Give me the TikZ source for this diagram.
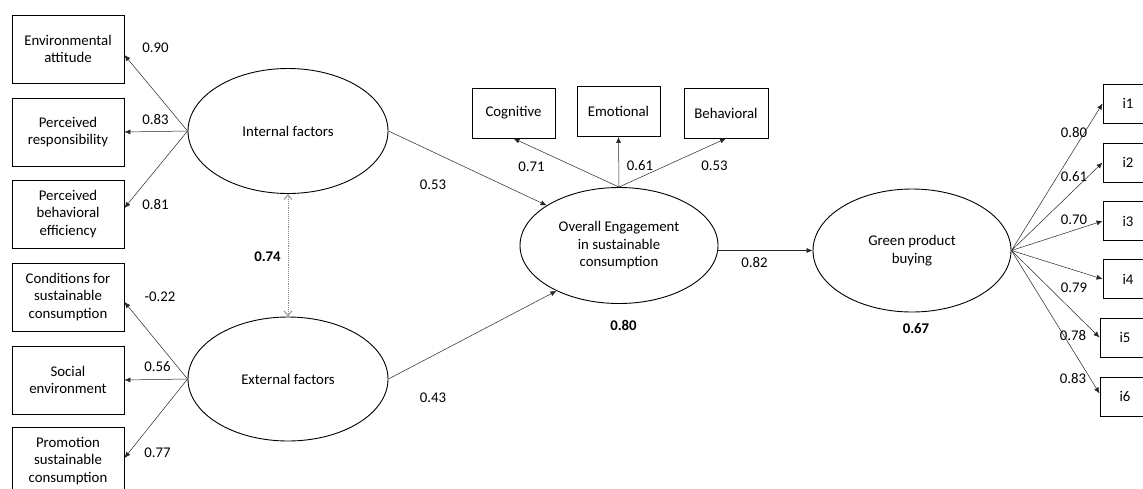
\documentclass[tikz,border=0pt]{standalone}
\usepackage{fontspec}
\setmainfont{Carlito}
\usetikzlibrary{shapes.geometric,arrows.meta}
\begin{document}
\begin{tikzpicture}[x=1pt,y=-1pt,
  every node/.style={font=\fontsize{14.8}{17.5}\selectfont},
  box/.style={draw,line width=0.9pt,inner sep=0pt,align=center},
  lbox/.style={box,minimum width=112pt,minimum height=68pt},
  tbox/.style={box,minimum width=83pt,minimum height=50pt},
  ibox/.style={box,minimum width=50pt,minimum height=39pt},
  latent/.style={draw,ellipse,line width=0.9pt,inner sep=0pt,align=center},
  arr/.style={line width=0.5pt,draw=black!85,-{Latex[length=6pt,width=5pt]}},
  corr/.style={line width=0.9pt,draw=black!45,densely dotted,{Straight Barb[length=5pt,width=8pt]}-{Straight Barb[length=5pt,width=8pt]}},
  lab/.style={inner sep=0pt},
  blab/.style={inner sep=0pt,font=\fontsize{14.8}{17.5}\selectfont\bfseries}]
\useasboundingbox (0,0) rectangle (1143,488);
\clip (0,0) rectangle (1143,488);
\fill[white] (0,0) rectangle (1143,488);

% left indicator boxes
\node[lbox] (env) at (68,49) {Environmental\\attitude};
\node[lbox] (resp) at (68,132) {Perceived\\responsibility};
\node[lbox] (eff) at (68,214) {Perceived\\behavioral\\efficiency};
\node[lbox] (cond) at (68,297) {Conditions for\\sustainable\\consumption};
\node[lbox] (soc) at (68,380) {Social\\environment};
\node[lbox] (prom) at (68,461) {Promotion\\sustainable\\consumption};

% latent variables
\node[latent,minimum width=200pt,minimum height=125pt] (int) at (288,131) {Internal factors};
\node[latent,minimum width=200pt,minimum height=124pt] (ext) at (288,379) {External factors};
\node[latent,minimum width=198pt,minimum height=116pt] (ov) at (619,245.5) {Overall Engagement\\in sustainable\\consumption};
\node[latent,minimum width=198pt,minimum height=123pt] (gr) at (912,250.5) {Green product\\buying};

% top boxes
\node[tbox] (cog) at (513.5,113) {Cognitive};
\node[tbox] (emo) at (618.5,111.5) {Emotional};
\node[tbox,minimum width=84pt] (beh) at (726,113) {Behavioral};

% right boxes
\node[ibox] (i1) at (1128,103.5) {i1};
\node[ibox] (i2) at (1128,162.5) {i2};
\node[ibox] (i3) at (1128,221) {i3};
\node[ibox] (i4) at (1128,279) {i4};
\node[ibox] (i5) at (1125,337.5) {i5};
\node[ibox] (i6) at (1125,396.5) {i6};

% loadings left
\draw[arr] (int.west) -- ([yshift=-6pt]env.east);
\draw[arr] (int.west) -- (resp.east);
\draw[arr] (int.west) -- ([yshift=6pt]eff.east);
\draw[arr] (ext.west) -- ([yshift=-5pt]cond.east);
\draw[arr] (ext.west) -- (soc.east);
\draw[arr] (ext.west) -- ([yshift=3pt]prom.east);

% correlation
\draw[corr] (int.south) -- (ext.north);

% structural paths
\draw[arr] (int.east) -- (ov.151);
\draw[arr] (ext.east) -- (ov.216);
\draw[arr] (gr.west -| ov.east) -- (gr.west);

% engagement indicators
\draw[arr] (ov.north) -- (cog.south);
\draw[arr] (ov.north) -- (emo.south);
\draw[arr] (ov.north) -- (beh.south);

% green indicators
\draw[arr] (gr.east) -- (i1.west);
\draw[arr] (gr.east) -- (i2.west);
\draw[arr] (gr.east) -- (i3.west);
\draw[arr] (gr.east) -- (i4.west);
\draw[arr] (gr.east) -- (i5.west);
\draw[arr] (gr.east) -- ([yshift=3pt]i6.west);

% labels
\node[lab] (l1) at (155.5,48) {0.90};
\node[lab] (l2) at (155.5,119) {0.83};
\node[lab] (l3) at (155.5,204) {0.81};
\node[lab] (l4) at (160,297) {-0.22};
\node[lab] (l5) at (157.5,367) {0.56};
\node[lab] (l6) at (157.5,453) {0.77};
\node[blab] (l7) at (267.5,257) {0.74};
\node[lab] (l8) at (433,185) {0.53};
\node[lab] (l9) at (433,398) {0.43};
\node[lab] (l10) at (531.5,167) {0.71};
\node[lab] (l11) at (640,166) {0.61};
\node[lab] (l12) at (714.5,166) {0.53};
\node[lab] (l13) at (754.5,262) {0.82};
\node[blab] (l14) at (623.5,325) {0.80};
\node[blab] (l15) at (916,328) {0.67};
\node[lab] (l16) at (1074,132) {0.80};
\node[lab] (l17) at (1074,177) {0.61};
\node[lab] (l18) at (1074,220) {0.70};
\node[lab] (l19) at (1074,288) {0.79};
\node[lab] (l20) at (1073,335) {0.78};
\node[lab] (l21) at (1073,378) {0.83};
\end{tikzpicture}
\end{document}
